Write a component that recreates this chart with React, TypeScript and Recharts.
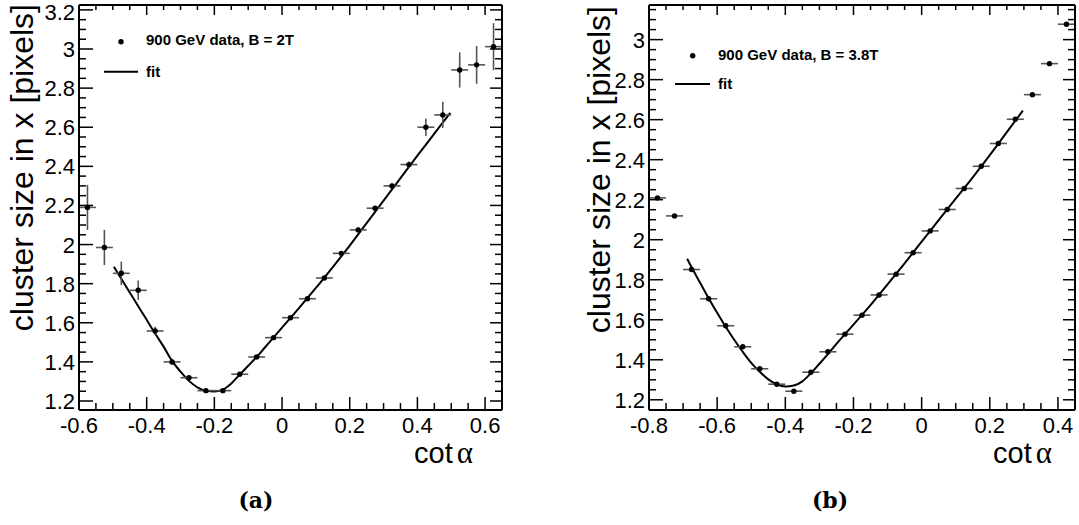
import React from 'react'
import { ComposedChart, Scatter, Line, XAxis, YAxis, ErrorBar } from 'recharts'

// (a) 900 GeV data, B = 2T
const cotAlphaA = [-0.575, -0.525, -0.475, -0.425, -0.375, -0.325, -0.275, -0.225, -0.175, -0.125, -0.075, -0.025, 0.025, 0.075, 0.125, 0.175, 0.225, 0.275, 0.325, 0.375, 0.425, 0.475, 0.525, 0.575, 0.625]
const sizeA = [2.19, 1.985, 1.853, 1.766, 1.558, 1.40, 1.319, 1.253, 1.253, 1.337, 1.425, 1.524, 1.626, 1.723, 1.829, 1.955, 2.075, 2.186, 2.30, 2.409, 2.60, 2.663, 2.893, 2.919, 3.012]
const sizeErrA = [0.115, 0.09, 0.06, 0.05, 0.022, 0.016, 0.012, 0.01, 0.01, 0.01, 0.01, 0.01, 0.01, 0.01, 0.01, 0.01, 0.012, 0.012, 0.014, 0.016, 0.045, 0.067, 0.09, 0.097, 0.12]
const fitXA = [-0.497, -0.475, -0.45, -0.425, -0.4, -0.375, -0.35, -0.325, -0.3, -0.275, -0.25, -0.225, -0.2, -0.175, -0.15, -0.125, -0.1, -0.075, -0.05, -0.025, 0, 0.05, 0.1, 0.15, 0.2, 0.25, 0.3, 0.35, 0.4, 0.45, 0.497]
const fitYA = [1.887, 1.825, 1.755, 1.685, 1.615, 1.545, 1.478, 1.405, 1.35, 1.303, 1.27, 1.252, 1.248, 1.258, 1.29, 1.335, 1.38, 1.425, 1.475, 1.525, 1.575, 1.675, 1.778, 1.885, 1.995, 2.11, 2.225, 2.34, 2.455, 2.567, 2.673]

// (b) 900 GeV data, B = 3.8T
const cotAlphaB = [-0.775, -0.725, -0.675, -0.625, -0.575, -0.525, -0.475, -0.425, -0.375, -0.325, -0.275, -0.225, -0.175, -0.125, -0.075, -0.025, 0.025, 0.075, 0.125, 0.175, 0.225, 0.275, 0.325, 0.375, 0.425]
const sizeB = [2.209, 2.119, 1.851, 1.705, 1.570, 1.465, 1.355, 1.278, 1.243, 1.338, 1.44, 1.528, 1.623, 1.724, 1.828, 1.935, 2.044, 2.151, 2.256, 2.367, 2.481, 2.602, 2.725, 2.88, 3.077]
const sizeErrB = [0.008, 0.008, 0.006, 0.006, 0.006, 0.006, 0.006, 0.006, 0.006, 0.006, 0.006, 0.006, 0.006, 0.006, 0.006, 0.006, 0.006, 0.006, 0.006, 0.006, 0.006, 0.006, 0.006, 0.006, 0.008]
const fitXB = [-0.688, -0.675, -0.65, -0.625, -0.6, -0.575, -0.55, -0.525, -0.5, -0.475, -0.45, -0.425, -0.4, -0.375, -0.35, -0.325, -0.3, -0.275, -0.25, -0.225, -0.2, -0.15, -0.1, -0.05, 0, 0.05, 0.1, 0.15, 0.2, 0.25, 0.297]
const fitYB = [1.905, 1.862, 1.785, 1.708, 1.635, 1.565, 1.5, 1.44, 1.385, 1.34, 1.302, 1.277, 1.266, 1.271, 1.292, 1.333, 1.38, 1.428, 1.479, 1.528, 1.576, 1.673, 1.777, 1.882, 1.99, 2.098, 2.205, 2.312, 2.423, 2.538, 2.645]

const binHalfWidth = 0.025

const xLabelsA = [-0.6, -0.4, -0.2, 0, 0.2, 0.4, 0.6]
const yLabelsA = [1.2, 1.4, 1.6, 1.8, 2, 2.2, 2.4, 2.6, 2.8, 3, 3.2]
const xLabelsB = [-0.8, -0.6, -0.4, -0.2, 0, 0.2, 0.4]
const yLabelsB = [1.2, 1.4, 1.6, 1.8, 2, 2.2, 2.4, 2.6, 2.8, 3]

const SANS = '"Liberation Sans", Arial, Helvetica, sans-serif'
const SERIF = '"DejaVu Serif", "Liberation Serif", serif'

// tick positions every 0.05 between the axis limits
function tickRange(lo: number, hi: number) {
  const out: number[] = []
  for (let i = Math.ceil(lo / 0.05 - 1e-6); i * 0.05 <= hi + 1e-6; i++) out.push(Math.round(i * 5) / 100)
  return out
}

const isMajor = (v: number, majors: number[]) => majors.some(m => Math.abs(m - v) < 1e-6)
const fmt = (v: number) => String(Number(v.toFixed(2)))

function makeTick(side: 'bottom' | 'top' | 'left' | 'right', majors: number[]) {
  return (props: any) => {
    const { x, y, payload } = props
    const major = isMajor(payload.value, majors)
    if (side === 'bottom') {
      const len = major ? 13 : 7
      return (
        <g>
          <line x1={x} y1={y} x2={x} y2={y - len} stroke="#000" strokeWidth={1.5} />
          {major && (
            <text x={x} y={y + 23} textAnchor="middle" fontFamily={SANS} fontSize={22} fill="#000">
              {fmt(payload.value)}
            </text>
          )}
        </g>
      )
    }
    if (side === 'left') {
      const len = major ? 14 : 7
      return (
        <g>
          <line x1={x} y1={y} x2={x + len} y2={y} stroke="#000" strokeWidth={1.5} />
          {major && (
            <text x={x - 4} y={Math.max(y + 8, 20)} textAnchor="end" fontFamily={SANS} fontSize={22} fill="#000">
              {fmt(payload.value)}
            </text>
          )}
        </g>
      )
    }
    if (side === 'top') {
      const len = major ? 10 : 5
      return <line x1={x} y1={y} x2={x} y2={y + len} stroke="#000" strokeWidth={1.5} />
    }
    const len = major ? 12 : 7
    return <line x1={x} y1={y} x2={x - len} y2={y} stroke="#000" strokeWidth={1.5} />
  }
}

const dot = (p: any) => <circle cx={p.cx} cy={p.cy} r={2.7} fill="#000" />

type PanelProps = {
  left: number
  width: number
  marginLeft: number
  marginRight: number
  xDomain: [number, number]
  yDomain: [number, number]
  xLabels: number[]
  yLabels: number[]
  bins: number[]
  sizes: number[]
  errs: number[]
  fitX: number[]
  fitY: number[]
}

function Panel(props: PanelProps) {
  const { xDomain, yDomain, xLabels, yLabels } = props
  const points = props.bins.map((x, i) => ({ x, y: props.sizes[i], ex: binHalfWidth, ey: props.errs[i] }))
  const fit = props.fitX.map((x, i) => ({ x, y: props.fitY[i] }))
  const xTicks = tickRange(xDomain[0], xDomain[1])
  const yTicks = tickRange(yDomain[0], yDomain[1])
  const axisLine = { stroke: '#000', strokeWidth: 2 }

  // axes are 1px thick so that the frame sits on the plot edges
  return (
    <div style={{ position: 'absolute', left: props.left, top: 0 }}>
      <ComposedChart
        width={props.width}
        height={440}
        margin={{ top: 4, right: props.marginRight - 1, bottom: 29, left: props.marginLeft - 1 }}
        style={{ overflow: 'visible' }}
      >
        <XAxis xAxisId="b" orientation="bottom" type="number" dataKey="x" domain={xDomain} allowDataOverflow
          ticks={xTicks} interval={0} height={1} tickSize={0} tickMargin={0} tickLine={false}
          axisLine={axisLine} tick={makeTick('bottom', xLabels)} />
        <XAxis xAxisId="t" orientation="top" type="number" dataKey="x" domain={xDomain} allowDataOverflow
          ticks={xTicks} interval={0} height={1} tickSize={0} tickMargin={0} tickLine={false}
          axisLine={axisLine} tick={makeTick('top', xLabels)} />
        <YAxis yAxisId="l" orientation="left" type="number" domain={yDomain} allowDataOverflow
          ticks={yTicks} interval={0} width={1} tickSize={0} tickMargin={0} tickLine={false}
          axisLine={axisLine} tick={makeTick('left', yLabels)} />
        <YAxis yAxisId="r" orientation="right" type="number" domain={yDomain} allowDataOverflow
          ticks={yTicks} interval={0} width={1} tickSize={0} tickMargin={0} tickLine={false}
          axisLine={axisLine} tick={makeTick('right', yLabels)} />
        <Line xAxisId="t" yAxisId="r" data={fit} dataKey="y" type="monotone" stroke="#000"
          strokeWidth={2} dot={false} activeDot={false} isAnimationActive={false} />
        <Scatter xAxisId="b" yAxisId="l" data={points} dataKey="y" shape={dot} isAnimationActive={false}>
          <ErrorBar dataKey="ex" direction="x" width={0} stroke="#555" strokeWidth={1.6} isAnimationActive={false} />
          <ErrorBar dataKey="ey" direction="y" width={0} stroke="#555" strokeWidth={1.6} isAnimationActive={false} />
        </Scatter>
      </ComposedChart>
    </div>
  )
}

export default function App() {
  return (
    <div style={{ position: 'absolute', left: 0, top: 0, width: 1079, height: 525, background: '#fff' }}>
      <Panel left={0} width={520} marginLeft={79} marginRight={18} xDomain={[-0.6, 0.65]} yDomain={[1.154, 3.225]}
        xLabels={xLabelsA} yLabels={yLabelsA} bins={cotAlphaA} sizes={sizeA} errs={sizeErrA} fitX={fitXA} fitY={fitYA} />
      <Panel left={540} width={539} marginLeft={109} marginRight={4} xDomain={[-0.8, 0.45]} yDomain={[1.149, 3.173]}
        xLabels={xLabelsB} yLabels={yLabelsB} bins={cotAlphaB} sizes={sizeB} errs={sizeErrB} fitX={fitXB} fitY={fitYB} />
      <svg width={1079} height={525} style={{ position: 'absolute', left: 0, top: 0, pointerEvents: 'none' }}>
        {/* axis titles */}
        <text x={33} y={4} transform="rotate(-90 33 4)" textAnchor="end" fontFamily={SANS} fontSize={32} fill="#000">
          cluster size in x [pixels]
        </text>
        <text x={610} y={6} transform="rotate(-90 610 6)" textAnchor="end" fontFamily={SANS} fontSize={32} fill="#000">
          cluster size in x [pixels]
        </text>
        <text x={414} y={463} fontFamily={SANS} fontSize={29} fill="#000">
          cot<tspan dx={4} fontFamily={'"Liberation Serif", serif'} fontSize={31}>α</tspan>
        </text>
        <text x={993} y={463} fontFamily={SANS} fontSize={29} fill="#000">
          cot<tspan dx={4} fontFamily={'"Liberation Serif", serif'} fontSize={31}>α</tspan>
        </text>

        {/* legends */}
        <circle cx={121} cy={41.7} r={2.7} fill="#000" />
        <text x={146} y={45} fontFamily={SANS} fontWeight="bold" fontSize={15} fill="#000">900 GeV data, B = 2T</text>
        <line x1={104} y1={71.7} x2={138} y2={71.7} stroke="#000" strokeWidth={2} />
        <text x={146} y={76.5} fontFamily={SANS} fontWeight="bold" fontSize={15} fill="#000">fit</text>

        <circle cx={692.7} cy={55.7} r={2.7} fill="#000" />
        <text x={718} y={59.5} fontFamily={SANS} fontWeight="bold" fontSize={15} fill="#000">900 GeV data, B = 3.8T</text>
        <line x1={675} y1={84} x2={710} y2={84} stroke="#000" strokeWidth={2} />
        <text x={718} y={89} fontFamily={SANS} fontWeight="bold" fontSize={15} fill="#000">fit</text>

        {/* sub-figure captions */}
        <text x={256} y={508} textAnchor="middle" fontFamily={SERIF} fontWeight="bold" fontSize={22} fill="#000">(a)</text>
        <text x={830} y={508} textAnchor="middle" fontFamily={SERIF} fontWeight="bold" fontSize={22} fill="#000">(b)</text>
      </svg>
    </div>
  )
}
